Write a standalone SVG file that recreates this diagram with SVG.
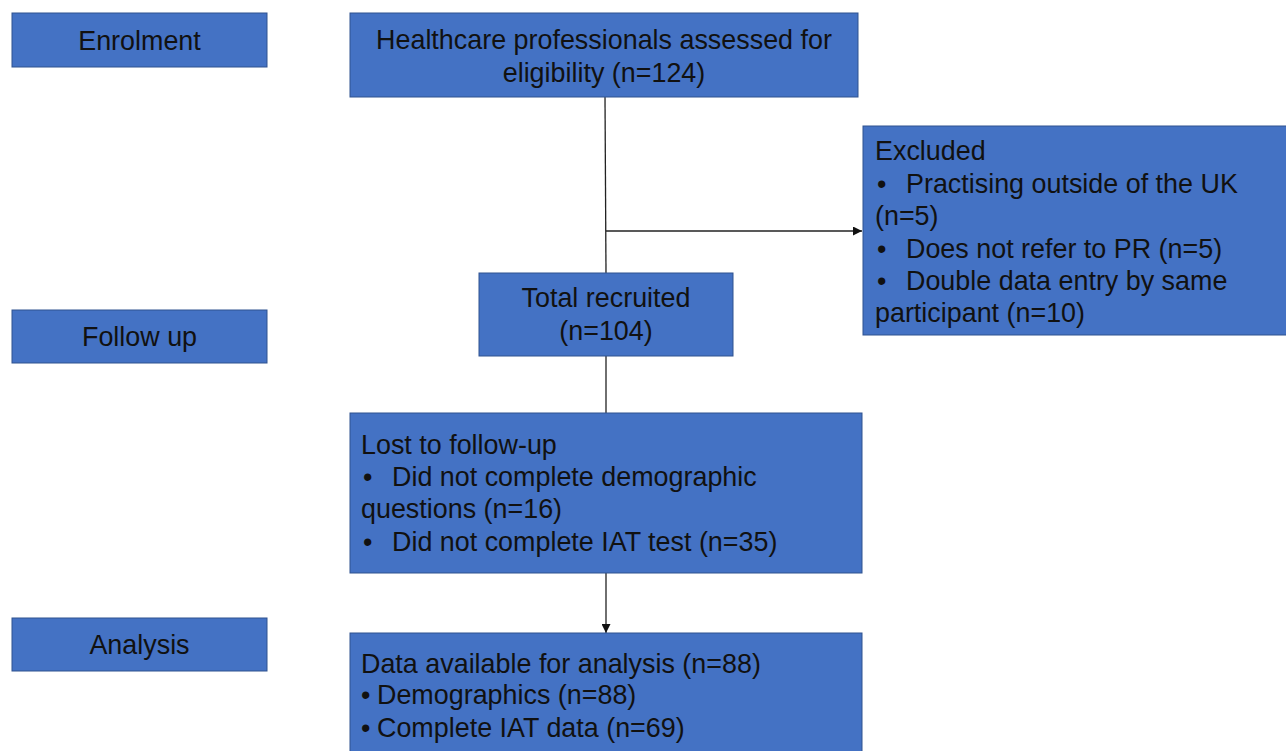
<svg xmlns="http://www.w3.org/2000/svg" width="1286" height="751" viewBox="0 0 1286 751">
<defs>
<style>
.box{fill:#4472C4;stroke:#2F528F;stroke-width:1}
.t{font-family:"Liberation Sans",Arial,sans-serif;font-size:26.9px;fill:#111}
.c{text-anchor:middle}
.ln{stroke:#222;stroke-width:1.3;fill:none}
</style>
<marker id="ah" viewBox="0 0 10 10" refX="10" refY="5" markerWidth="9" markerHeight="9" markerUnits="userSpaceOnUse" orient="auto">
<path d="M0,0 L10,5 L0,10 z" fill="#111"/>
</marker>
</defs>
<rect width="1286" height="751" fill="#fff"/>
<g id="connectors">
<line class="ln" x1="605" y1="97" x2="606" y2="273"/>
<line class="ln" x1="606" y1="231" x2="862" y2="231" marker-end="url(#ah)"/>
<line class="ln" x1="606" y1="356" x2="606" y2="413"/>
<line class="ln" x1="606" y1="573" x2="606" y2="633" marker-end="url(#ah)"/>
</g>
<g id="enrolment">
<rect class="box" x="12" y="13" width="255" height="54"/>
<text class="t c" x="139.5" y="50">Enrolment</text>
</g>
<g id="followup">
<rect class="box" x="12" y="310" width="255" height="53"/>
<text class="t c" x="139.5" y="346">Follow up</text>
</g>
<g id="analysis">
<rect class="box" x="12" y="618" width="255" height="53"/>
<text class="t c" x="139.5" y="654">Analysis</text>
</g>
<g id="assessed">
<rect class="box" x="350" y="13" width="508" height="84"/>
<text class="t c" x="604" y="49">Healthcare professionals assessed for</text>
<text class="t c" x="604" y="82">eligibility (n=124)</text>
</g>
<g id="excluded">
<rect class="box" x="863" y="126" width="430" height="209"/>
<text class="t" x="875" y="160">Excluded</text>
<text class="t" y="193"><tspan x="877">•</tspan><tspan x="906">Practising outside of the UK</tspan></text>
<text class="t" x="875" y="225">(n=5)</text>
<text class="t" y="258"><tspan x="877">•</tspan><tspan x="906">Does not refer to PR (n=5)</tspan></text>
<text class="t" y="290"><tspan x="877">•</tspan><tspan x="906">Double data entry by same</tspan></text>
<text class="t" x="875" y="322">participant (n=10)</text>
</g>
<g id="recruited">
<rect class="box" x="479" y="273" width="254" height="83"/>
<text class="t c" x="606" y="307">Total recruited</text>
<text class="t c" x="606" y="340">(n=104)</text>
</g>
<g id="lost">
<rect class="box" x="350" y="413" width="512" height="160"/>
<text class="t" x="361" y="454">Lost to follow-up</text>
<text class="t" y="486"><tspan x="363">•</tspan><tspan x="392">Did not complete demographic</tspan></text>
<text class="t" x="361" y="518">questions (n=16)</text>
<text class="t" y="551"><tspan x="363">•</tspan><tspan x="392">Did not complete IAT test (n=35)</tspan></text>
</g>
<g id="analysisdata">
<rect class="box" x="350" y="633" width="512" height="130"/>
<text class="t" x="361" y="673">Data available for analysis (n=88)</text>
<text class="t" y="704"><tspan x="361">•</tspan><tspan x="377">Demographics (n=88)</tspan></text>
<text class="t" y="737"><tspan x="361">•</tspan><tspan x="377">Complete IAT data (n=69)</tspan></text>
</g>
</svg>
